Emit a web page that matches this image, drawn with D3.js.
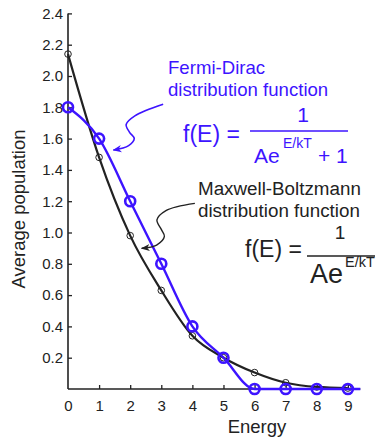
<!DOCTYPE html>
<html>
<head>
<meta charset="utf-8">
<script src="https://cdn.jsdelivr.net/npm/d3@7"></script>
<style>
  html, body { margin: 0; padding: 0; background: #fff; }
  svg { display: block; font-family: "Liberation Sans", Arial, Helvetica, sans-serif; }
</style>
</head>
<body>
<svg id="chart" width="378" height="446"></svg>
<script>
// ---- data ----
const energy = [0, 1, 2, 3, 4, 5, 6, 7, 8, 9];
const maxwellBoltzmann = [2.14, 1.48, 0.98, 0.63, 0.34, 0.20, 0.105, 0.04, 0.013, 0.006];
const fermiDirac = [1.80, 1.60, 1.20, 0.80, 0.40, 0.20, 0, 0, 0, 0];
const xTickValues = [0, 1, 2, 3, 4, 5, 6, 7, 8, 9];
const yTickValues = [0.2, 0.4, 0.6, 0.8, 1.0, 1.2, 1.4, 1.6, 1.8, 2.0, 2.2, 2.4];
const xDomain = [0, 9.4];
const yDomain = [0, 2.4];

const BLUE = "#3d14ff";
const DARK = "#222";

const svg = d3.select("#chart");
const x = d3.scaleLinear().domain(xDomain).range([68, 360.3]);
const y = d3.scaleLinear().domain(yDomain).range([389, 13.4]);

// ---- axes ----
svg.append("line").attr("x1", x(0)).attr("x2", x(xDomain[1])).attr("y1", y(0)).attr("y2", y(0))
  .attr("stroke", DARK).attr("stroke-width", 1.6);
svg.append("line").attr("x1", x(0)).attr("x2", x(0)).attr("y1", y(0)).attr("y2", y(yDomain[1]))
  .attr("stroke", DARK).attr("stroke-width", 1.6);

const yAxis = svg.append("g").attr("transform", `translate(${x(0)},0)`)
  .call(d3.axisRight(y).tickValues(yTickValues).tickSize(4).tickFormat(d3.format(".1f")));
yAxis.select(".domain").remove();
yAxis.selectAll(".tick line").attr("stroke", DARK).attr("stroke-width", 1.3);
yAxis.selectAll(".tick text").attr("x", -5).attr("text-anchor", "end")
  .attr("font-size", 15).attr("fill", DARK).attr("font-family", "Liberation Sans, Arial, sans-serif");

const xAxis = svg.append("g").attr("transform", `translate(0,${y(0)})`)
  .call(d3.axisTop(x).tickValues(xTickValues).tickSize(4).tickFormat(d3.format("d")));
xAxis.select(".domain").remove();
xAxis.selectAll(".tick line").attr("stroke", DARK).attr("stroke-width", 1.3)
  .filter(d => d === 0).remove();
xAxis.selectAll(".tick text").attr("y", 22).attr("dy", 0)
  .attr("font-size", 15).attr("fill", DARK).attr("font-family", "Liberation Sans, Arial, sans-serif");

// axis titles
svg.append("text").attr("x", 257).attr("y", 433).attr("text-anchor", "middle")
  .attr("font-size", 18.5).attr("fill", DARK).text("Energy");
svg.append("text").attr("transform", `translate(25,209) rotate(-90)`).attr("text-anchor", "middle")
  .attr("font-size", 18.5).attr("fill", DARK).text("Average population");

// ---- series ----
const mbData = energy.map((e, i) => ({ e, v: maxwellBoltzmann[i] }));
const fdData = energy.map((e, i) => ({ e, v: fermiDirac[i] }));
const fdLineData = fdData.concat([{ e: xDomain[1], v: fermiDirac[fermiDirac.length - 1] }]);

const line = d3.line().x(d => x(d.e)).y(d => y(d.v)).curve(d3.curveMonotoneX);

svg.append("path").datum(mbData).attr("d", line)
  .attr("fill", "none").attr("stroke", DARK).attr("stroke-width", 2.2);
svg.selectAll("circle.mb").data(mbData).join("circle").attr("class", "mb")
  .attr("cx", d => x(d.e)).attr("cy", d => y(d.v)).attr("r", 3.3)
  .attr("fill", "none").attr("stroke", DARK).attr("stroke-width", 1);

svg.append("path").datum(fdLineData).attr("d", line)
  .attr("fill", "none").attr("stroke", BLUE).attr("stroke-width", 2.4);
svg.selectAll("circle.fd").data(fdData).join("circle").attr("class", "fd")
  .attr("cx", d => x(d.e)).attr("cy", d => y(d.v)).attr("r", 5)
  .attr("fill", "none").attr("stroke", BLUE).attr("stroke-width", 2.6);

// ---- annotations ----
const defs = svg.append("defs");
function marker(id, color) {
  defs.append("marker").attr("id", id).attr("viewBox", "0 0 10 10")
    .attr("refX", 9).attr("refY", 5).attr("markerWidth", 9).attr("markerHeight", 9)
    .attr("markerUnits", "userSpaceOnUse").attr("orient", "auto")
    .append("path").attr("d", "M0,1 L10,5 L0,9 L3,5 Z").attr("fill", color);
}
marker("arrBlue", BLUE);
marker("arrDark", DARK);

const annLine = d3.line().x(d => x(d[0])).y(d => y(d[1])).curve(d3.curveCatmullRom);
const fdArrow = [[3.06, 1.819], [2.15, 1.745], [1.87, 1.69], [1.98, 1.64], [2.13, 1.60], [1.95, 1.555], [1.46, 1.527]];
const mbArrow = [[4.08, 1.186], [3.15, 1.14], [2.86, 1.08], [3.0, 1.02], [3.1, 0.975], [2.85, 0.92], [2.37, 0.899]];

svg.append("path").datum(fdArrow).attr("d", annLine).attr("fill", "none")
  .attr("stroke", BLUE).attr("stroke-width", 1.6).attr("marker-end", "url(#arrBlue)");
svg.append("path").datum(mbArrow).attr("d", annLine).attr("fill", "none")
  .attr("stroke", DARK).attr("stroke-width", 1.4).attr("marker-end", "url(#arrDark)");

// text labels
function label(txt, px, py, size, color, anchor) {
  return svg.append("text").attr("x", px).attr("y", py).attr("font-size", size)
    .attr("fill", color).attr("text-anchor", anchor || "start").text(txt);
}
label("Fermi-Dirac", 168, 74, 18.6, BLUE);
label("distribution function", 168, 96, 18.6, BLUE);
label("f(E) =", 183, 141.5, 23, BLUE);
label("1", 303, 122, 21, BLUE, "middle");
svg.append("line").attr("x1", 250).attr("x2", 348).attr("y1", 131).attr("y2", 131)
  .attr("stroke", BLUE).attr("stroke-width", 1.5);
label("Ae", 254, 163, 21, BLUE);
label("E/kT", 283, 148, 14, BLUE);
label("+ 1", 318, 163, 21, BLUE);

label("Maxwell-Boltzmann", 198, 195, 18.8, DARK);
label("distribution function", 198, 216.5, 18.8, DARK);
label("f(E) =", 245, 257, 23, DARK);
label("1", 340, 238.5, 19, DARK, "middle");
svg.append("line").attr("x1", 307).attr("x2", 375).attr("y1", 256).attr("y2", 256)
  .attr("stroke", DARK).attr("stroke-width", 1.5);
label("Ae", 310, 283, 27, DARK);
label("E/kT", 345, 267, 14.5, DARK);
</script>
</body>
</html>
